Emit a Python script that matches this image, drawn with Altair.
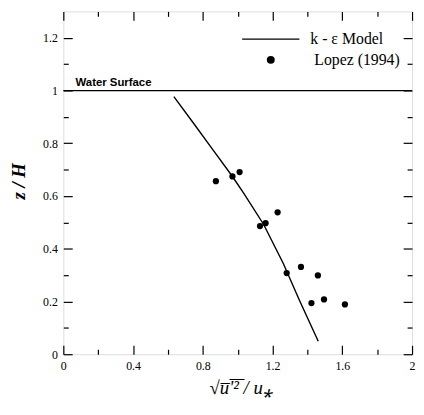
import altair as alt
import pandas as pd

# k-epsilon model curve (sqrt(u'^2)/u*, z/H)
model_x = [0.634, 0.750, 0.853, 0.970, 1.037, 1.149, 1.261, 1.354, 1.462]
model_z = [0.977, 0.873, 0.780, 0.674, 0.608, 0.492, 0.345, 0.205, 0.049]

# Lopez (1994) measurements
lopez_x = [0.875, 0.970, 1.011, 1.128, 1.160, 1.229, 1.281, 1.363, 1.460, 1.423, 1.495, 1.615]
lopez_z = [0.656, 0.674, 0.691, 0.486, 0.497, 0.538, 0.308, 0.331, 0.299, 0.194, 0.208, 0.189]

water_level = [1.0]
water_label = ["Water Surface"]
series_names = ["k - ε  Model", "Lopez (1994)"]

x_major = [0, 0.4, 0.8, 1.2, 1.6, 2]
x_minor = [0.2, 0.6, 1.0, 1.4, 1.8]
y_major = [0, 0.2, 0.4, 0.6, 0.8, 1.0, 1.2]
y_minor = [0.1, 0.3, 0.5, 0.7, 0.9, 1.1]

W, H = 353, 347
SERIF = "Liberation Serif"
MAJ, MIN = 9, 5

model_df = pd.DataFrame({"x": model_x, "z": model_z, "series": series_names[0]})
lopez_df = pd.DataFrame({"x": lopez_x, "z": lopez_z, "series": series_names[1]})
water_df = pd.DataFrame({"z": water_level, "label": water_label, "x": [0.07]})

xs = alt.Scale(domain=[0, 2], nice=False, zero=False)
ys = alt.Scale(domain=[0, 1.3], nice=False, zero=False)


def tick_axis(orient, offset, values, size):
    # inward ticks: an axis of the opposite orient moved across the plot
    return alt.Axis(orient=orient, offset=offset, values=values, labels=False, domain=False,
                    grid=False, title=None, tickSize=size, tickColor="black", tickWidth=1.2)


x_label_axis = alt.Axis(orient="bottom", values=x_major, format="~g", ticks=False, tickSize=0,
                        domain=False, grid=False, labelFlush=False, labelPadding=6,
                        labelFont=SERIF, labelFontSize=12, labelColor="black",
                        title="√u̅'̅²̅ / u⁎", titleFont=SERIF, titleFontSize=19,
                        titleFontStyle="italic", titleFontWeight="normal", titleColor="black",
                        titleX=W / 2 + 3, titleY=25, titleBaseline="top", titleAlign="center")
y_label_axis = alt.Axis(orient="left", values=y_major, format="~g", ticks=False, tickSize=0,
                        domain=False, grid=False, labelFlush=False, labelPadding=6,
                        labelFont=SERIF, labelFontSize=12, labelColor="black",
                        title="z / H", titleFont=SERIF, titleFontSize=19,
                        titleFontStyle="italic", titleFontWeight="bold", titleColor="black",
                        titleX=-35, titleY=H / 2 - 2, titleAngle=-90, titleBaseline="bottom",
                        titleAlign="center")

line = alt.Chart(model_df).mark_line(strokeWidth=1.4, color="black").encode(
    x=alt.X("x:Q", scale=xs, axis=x_label_axis),
    y=alt.Y("z:Q", scale=ys, axis=y_label_axis),
    color=alt.Color("series:N", scale=alt.Scale(range=["black"]),
                    legend=alt.Legend(title=None, orient="none", legendX=180, legendY=-2,
                                      symbolType="stroke", symbolSize=3364, symbolStrokeWidth=1.4,
                                      labelOffset=10, labelFont=SERIF, labelFontSize=16,
                                      labelColor="black")),
)

points = alt.Chart(lopez_df).mark_point(filled=True, color="black", size=40, opacity=1).encode(
    x=alt.X("x:Q", scale=xs, axis=tick_axis("top", -H, x_major, MAJ)),
    y=alt.Y("z:Q", scale=ys, axis=tick_axis("right", -W, y_major, MAJ)),
    shape=alt.Shape("series:N", scale=alt.Scale(range=["circle"]),
                    legend=alt.Legend(title=None, orient="none", legendX=202, legendY=41,
                                      symbolSize=64, symbolFillColor="black",
                                      symbolStrokeColor="black", symbolOpacity=1,
                                      labelOffset=36, labelFont=SERIF, labelFontSize=16,
                                      labelColor="black")),
)

points_minor = alt.Chart(lopez_df).mark_point(opacity=0).encode(
    x=alt.X("x:Q", scale=xs, axis=tick_axis("top", -H, x_minor, MIN)),
    y=alt.Y("z:Q", scale=ys, axis=tick_axis("right", -W, y_minor, MIN)),
)

rule = alt.Chart(water_df).mark_rule(color="black", strokeWidth=1.3).encode(
    y=alt.Y("z:Q", scale=ys, axis=tick_axis("left", -W, y_major, MAJ)),
)

label = alt.Chart(water_df).mark_text(align="left", baseline="bottom", dy=-3,
                                      font="Liberation Sans", fontSize=11.5,
                                      fontWeight="bold", color="black").encode(
    x=alt.X("x:Q", scale=xs, axis=tick_axis("bottom", -H, x_major, MAJ)),
    y=alt.Y("z:Q", scale=ys, axis=tick_axis("left", -W, y_minor, MIN)),
    text="label:N",
)

line_minor = alt.Chart(model_df).mark_line(opacity=0).encode(
    x=alt.X("x:Q", scale=xs, axis=tick_axis("bottom", -H, x_minor, MIN)),
    y=alt.Y("z:Q", scale=ys, axis=None),
)

chart = alt.layer(line, points, points_minor, rule, label, line_minor).resolve_axis(
    x="independent", y="independent"
).resolve_legend(color="independent", shape="independent").properties(
    width=W, height=H,
    autosize=alt.AutoSizeParams(type="none"),
    padding={"left": 56, "top": 1, "right": 4, "bottom": 55},
).configure_view(stroke="black", strokeWidth=1.3).configure(background="white")

chart.save("out.html", embed_options={"renderer": "svg", "actions": False})
